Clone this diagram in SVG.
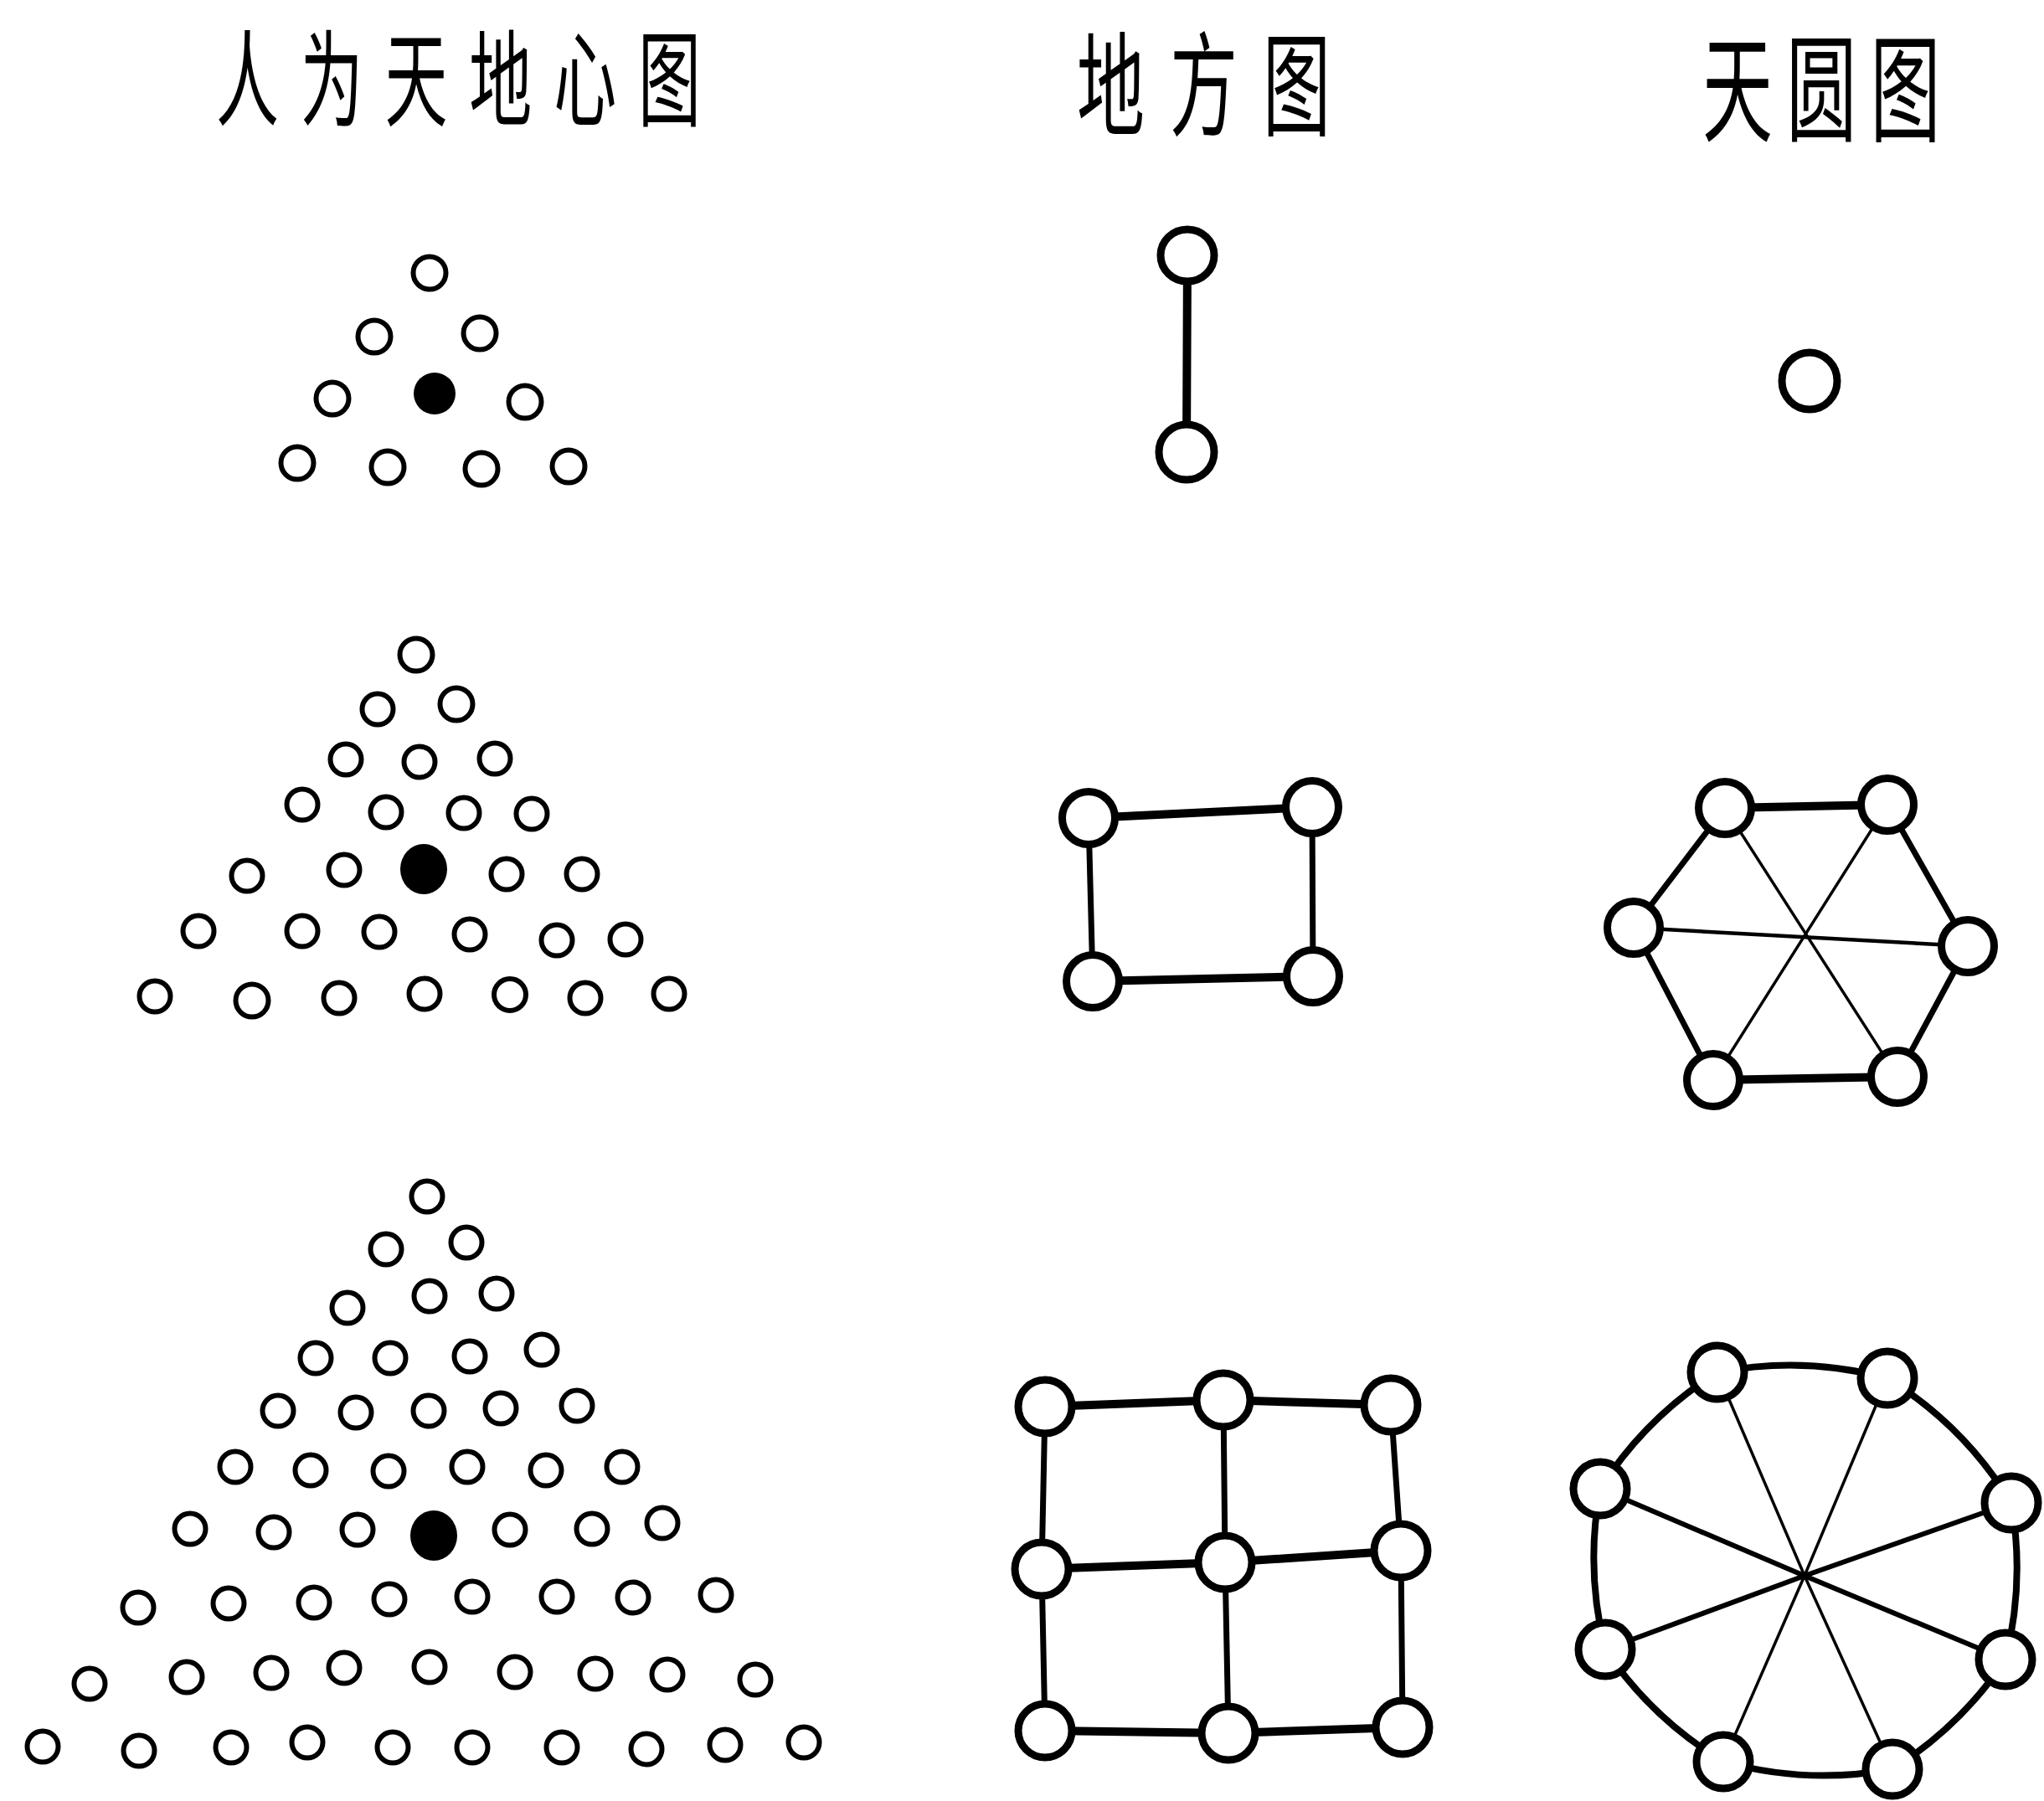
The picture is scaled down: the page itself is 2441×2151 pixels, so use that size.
<svg xmlns="http://www.w3.org/2000/svg" width="2441" height="2151" viewBox="0 0 2441 2151">
<style>
.title{font-family:"Noto Sans CJK SC","Noto Sans CJK TC",sans-serif;fill:#000}
.dot{fill:#fff;stroke:#000;stroke-width:6}
.dotf{fill:#000}
.node{fill:#fff;stroke:#000;stroke-width:9}
.e{stroke:#000;fill:none;stroke-linecap:round}
.thick{stroke-width:10}
.mid{stroke-width:7}
.thin{stroke-width:3.5}
</style>
<rect width="2441" height="2151" fill="#fff"/>
<g id="titles">
<text class="title" transform="translate(258,141) scale(0.6,1)" font-size="125" letter-spacing="43">人为天地心图</text>
<text class="title" transform="translate(1286,152) scale(0.6,1)" font-size="135" letter-spacing="50">地方图</text>
<text class="title" transform="translate(2033,158) scale(0.6,1)" font-size="140" letter-spacing="27">天圆图</text>
</g>
<g id="connectors">
<line class="e thick" x1="1418" y1="305" x2="1417" y2="540"/>
<line class="e thick" x1="1300" y1="977" x2="1567" y2="964"/>
<line class="e thick" x1="1305" y1="1172" x2="1568" y2="1166"/>
<line class="e mid" x1="1300" y1="977" x2="1305" y2="1172"/>
<line class="e mid" x1="1567" y1="964" x2="1568" y2="1166"/>
<line class="e thick" x1="2060" y1="965" x2="2254" y2="961"/>
<line class="e mid" x1="2254" y1="961" x2="2350" y2="1130"/>
<line class="e mid" x1="2350" y1="1130" x2="2266" y2="1286"/>
<line class="e thick" x1="2266" y1="1286" x2="2046" y2="1290"/>
<line class="e mid" x1="2046" y1="1290" x2="1951" y2="1108"/>
<line class="e mid" x1="1951" y1="1108" x2="2060" y2="965"/>
<line class="e thin" x1="2060" y1="965" x2="2266" y2="1286"/>
<line class="e thin" x1="2254" y1="961" x2="2046" y2="1290"/>
<line class="e" stroke-width="4.5" x1="1951" y1="1108" x2="2350" y2="1130"/>
<line class="e thick" x1="1248" y1="1680" x2="1461" y2="1672"/>
<line class="e thick" x1="1461" y1="1672" x2="1661" y2="1678"/>
<line class="e thick" x1="1244" y1="1874" x2="1463" y2="1866"/>
<line class="e thick" x1="1463" y1="1866" x2="1673" y2="1852"/>
<line class="e thick" x1="1248" y1="2067" x2="1467" y2="2070"/>
<line class="e thick" x1="1467" y1="2070" x2="1675" y2="2063"/>
<line class="e mid" x1="1248" y1="1680" x2="1244" y2="1874"/>
<line class="e mid" x1="1244" y1="1874" x2="1248" y2="2067"/>
<line class="e mid" x1="1461" y1="1672" x2="1463" y2="1866"/>
<line class="e mid" x1="1463" y1="1866" x2="1467" y2="2070"/>
<line class="e mid" x1="1661" y1="1678" x2="1673" y2="1852"/>
<line class="e mid" x1="1673" y1="1852" x2="1675" y2="2063"/>
<path class="e" stroke-width="8" d="M2051,1639 A450,450 0 0 1 2254,1646 A450,450 0 0 1 2402,1795 A450,450 0 0 1 2395,1982 A450,450 0 0 1 2260,2113 A450,450 0 0 1 2058,2104 A450,450 0 0 1 1917,1970 A450,450 0 0 1 1911,1778 A450,450 0 0 1 2051,1639 Z"/>
<line class="e thin" x1="2155" y1="1882" x2="2051" y2="1639"/>
<line class="e thin" x1="2155" y1="1882" x2="2254" y2="1646"/>
<line class="e thin" x1="2155" y1="1882" x2="2058" y2="2104"/>
<line class="e thin" x1="2155" y1="1882" x2="2260" y2="2113"/>
<line class="e" stroke-width="6" x1="2155" y1="1882" x2="1911" y2="1778"/>
<line class="e" stroke-width="6" x1="2155" y1="1882" x2="2402" y2="1795"/>
<line class="e" stroke-width="6" x1="2155" y1="1882" x2="1917" y2="1970"/>
<line class="e" stroke-width="6" x1="2155" y1="1882" x2="2395" y2="1982"/>
</g>
<g id="triangle-1">
<circle class="dot" cx="513" cy="326" r="19.5"/>
<circle class="dot" cx="447" cy="402" r="19.5"/><circle class="dot" cx="573" cy="398" r="19.5"/>
<circle class="dot" cx="397" cy="476" r="19.5"/><circle class="dotf" cx="519" cy="470" r="25"/><circle class="dot" cx="627" cy="480" r="19.5"/>
<circle class="dot" cx="355" cy="553" r="19.5"/><circle class="dot" cx="463" cy="558" r="19.5"/><circle class="dot" cx="575" cy="560" r="19.5"/><circle class="dot" cx="679" cy="557" r="19.5"/>
</g>
<g id="triangle-2">
<circle class="dot" cx="497" cy="782" r="19.5"/>
<circle class="dot" cx="451" cy="847" r="18.5"/><circle class="dot" cx="545" cy="841" r="19.5"/>
<circle class="dot" cx="413" cy="907" r="18.5"/><circle class="dot" cx="501" cy="910" r="18.5"/><circle class="dot" cx="591" cy="906" r="18.5"/>
<circle class="dot" cx="361" cy="961" r="18.5"/><circle class="dot" cx="461" cy="970" r="18.5"/><circle class="dot" cx="554" cy="971" r="18.5"/><circle class="dot" cx="635" cy="972" r="18.5"/>
<circle class="dot" cx="295" cy="1046" r="18.5"/><circle class="dot" cx="411" cy="1039" r="18.5"/><ellipse class="dotf" cx="506" cy="1038" rx="28" ry="30"/><circle class="dot" cx="605" cy="1044" r="18.5"/><circle class="dot" cx="695" cy="1044" r="18.5"/>
<circle class="dot" cx="237" cy="1112" r="18.5"/><circle class="dot" cx="361" cy="1112" r="18.5"/><circle class="dot" cx="453" cy="1113" r="18.5"/><circle class="dot" cx="561" cy="1116" r="18.5"/><circle class="dot" cx="665" cy="1123" r="18.5"/><circle class="dot" cx="747" cy="1122" r="18.5"/>
<circle class="dot" cx="185" cy="1190" r="18.5"/><circle class="dot" cx="301" cy="1195" r="19.5"/><circle class="dot" cx="405" cy="1192" r="18.5"/><circle class="dot" cx="507" cy="1187" r="18.5"/><circle class="dot" cx="609" cy="1188" r="19"/><circle class="dot" cx="699" cy="1192" r="18.5"/><circle class="dot" cx="799" cy="1187" r="18.5"/>
</g>
<g id="triangle-3">
<circle class="dot" cx="510" cy="1429" r="18.5"/>
<circle class="dot" cx="461" cy="1492" r="18.5"/><circle class="dot" cx="557" cy="1484" r="18.5"/>
<circle class="dot" cx="415" cy="1562" r="18.5"/><circle class="dot" cx="513" cy="1548" r="18.5"/><circle class="dot" cx="593" cy="1545" r="18.5"/>
<circle class="dot" cx="377" cy="1622" r="18.5"/><circle class="dot" cx="466" cy="1622" r="18.5"/><circle class="dot" cx="561" cy="1620" r="18.5"/><circle class="dot" cx="647" cy="1612" r="18.5"/>
<circle class="dot" cx="332" cy="1685" r="18.5"/><circle class="dot" cx="425" cy="1687" r="18.5"/><circle class="dot" cx="512" cy="1685" r="18.5"/><circle class="dot" cx="598" cy="1682" r="18.5"/><circle class="dot" cx="689" cy="1679" r="18.5"/>
<circle class="dot" cx="281" cy="1752" r="18.5"/><circle class="dot" cx="371" cy="1756" r="18.5"/><circle class="dot" cx="464" cy="1757" r="18.5"/><circle class="dot" cx="558" cy="1752" r="18.5"/><circle class="dot" cx="652" cy="1756" r="18.5"/><circle class="dot" cx="743" cy="1752" r="18.5"/>
<circle class="dot" cx="227" cy="1826" r="18.5"/><circle class="dot" cx="327" cy="1830" r="18.5"/><circle class="dot" cx="427" cy="1827" r="18.5"/><ellipse class="dotf" cx="518" cy="1834" rx="28" ry="30"/><circle class="dot" cx="609" cy="1827" r="18.5"/><circle class="dot" cx="707" cy="1826" r="18.5"/><circle class="dot" cx="791" cy="1819" r="18.5"/>
<circle class="dot" cx="165" cy="1920" r="18.5"/><circle class="dot" cx="273" cy="1915" r="18.5"/><circle class="dot" cx="375" cy="1914" r="18.5"/><circle class="dot" cx="465" cy="1910" r="18.5"/><circle class="dot" cx="564" cy="1907" r="18.5"/><circle class="dot" cx="665" cy="1907" r="18.5"/><circle class="dot" cx="756" cy="1908" r="18.5"/><circle class="dot" cx="855" cy="1905" r="18.5"/>
<circle class="dot" cx="107" cy="2011" r="18.5"/><circle class="dot" cx="223" cy="2003" r="18.5"/><circle class="dot" cx="324" cy="1998" r="18.5"/><circle class="dot" cx="411" cy="1992" r="18.5"/><circle class="dot" cx="513" cy="1991" r="18.5"/><circle class="dot" cx="615" cy="1997" r="18.5"/><circle class="dot" cx="711" cy="1999" r="18.5"/><circle class="dot" cx="797" cy="2000" r="18.5"/><circle class="dot" cx="902" cy="2006" r="18.5"/>
<circle class="dot" cx="51" cy="2086" r="18.5"/><circle class="dot" cx="166" cy="2091" r="18.5"/><circle class="dot" cx="276" cy="2087" r="18.5"/><circle class="dot" cx="367" cy="2081" r="18.5"/><circle class="dot" cx="469" cy="2087" r="18.5"/><circle class="dot" cx="564" cy="2087" r="18.5"/><circle class="dot" cx="671" cy="2087" r="18.5"/><circle class="dot" cx="772" cy="2089" r="18.5"/><circle class="dot" cx="866" cy="2084" r="18.5"/><circle class="dot" cx="960" cy="2081" r="18.5"/>
</g>
<g id="earth-1">
<g id="e1-a"><ellipse class="node" cx="1418" cy="305" rx="32" ry="31"/></g>
<g id="e1-b"><ellipse class="node" cx="1417" cy="540" rx="33" ry="33"/></g>
</g>
<g id="heaven-1">
<g id="h1-a"><ellipse class="node" cx="2161" cy="455" rx="33" ry="34"/></g>
</g>
<g id="earth-2">
<g id="e2-tl"><circle class="node" cx="1300" cy="977" r="31.5"/></g>
<g id="e2-tr"><circle class="node" cx="1567" cy="964" r="31.5"/></g>
<g id="e2-bl"><circle class="node" cx="1305" cy="1172" r="31.5"/></g>
<g id="e2-br"><circle class="node" cx="1568" cy="1166" r="31.5"/></g>
</g>
<g id="heaven-2">
<g id="h2-tl"><circle class="node" cx="2060" cy="965" r="31.5"/></g>
<g id="h2-tr"><circle class="node" cx="2254" cy="961" r="31.5"/></g>
<g id="h2-l"><circle class="node" cx="1951" cy="1108" r="31.5"/></g>
<g id="h2-r"><circle class="node" cx="2350" cy="1130" r="31.5"/></g>
<g id="h2-bl"><circle class="node" cx="2046" cy="1290" r="31.5"/></g>
<g id="h2-br"><circle class="node" cx="2266" cy="1286" r="31.5"/></g>
</g>
<g id="earth-3">
<g id="e3-11"><circle class="node" cx="1248" cy="1680" r="32"/></g>
<g id="e3-12"><circle class="node" cx="1461" cy="1672" r="32"/></g>
<g id="e3-13"><circle class="node" cx="1661" cy="1678" r="32"/></g>
<g id="e3-21"><circle class="node" cx="1244" cy="1874" r="32"/></g>
<g id="e3-22"><circle class="node" cx="1463" cy="1866" r="32"/></g>
<g id="e3-23"><circle class="node" cx="1673" cy="1852" r="32"/></g>
<g id="e3-31"><circle class="node" cx="1248" cy="2067" r="32"/></g>
<g id="e3-32"><circle class="node" cx="1467" cy="2070" r="32"/></g>
<g id="e3-33"><circle class="node" cx="1675" cy="2063" r="32"/></g>
</g>
<g id="heaven-3">
<g id="h3-tl"><circle class="node" cx="2051" cy="1639" r="32"/></g>
<g id="h3-tr"><circle class="node" cx="2254" cy="1646" r="32"/></g>
<g id="h3-lu"><circle class="node" cx="1911" cy="1778" r="32"/></g>
<g id="h3-ru"><circle class="node" cx="2402" cy="1795" r="32"/></g>
<g id="h3-ll"><circle class="node" cx="1917" cy="1970" r="32"/></g>
<g id="h3-rl"><circle class="node" cx="2395" cy="1982" r="32"/></g>
<g id="h3-bl"><circle class="node" cx="2058" cy="2104" r="32"/></g>
<g id="h3-br"><circle class="node" cx="2260" cy="2113" r="32"/></g>
</g>
</svg>
